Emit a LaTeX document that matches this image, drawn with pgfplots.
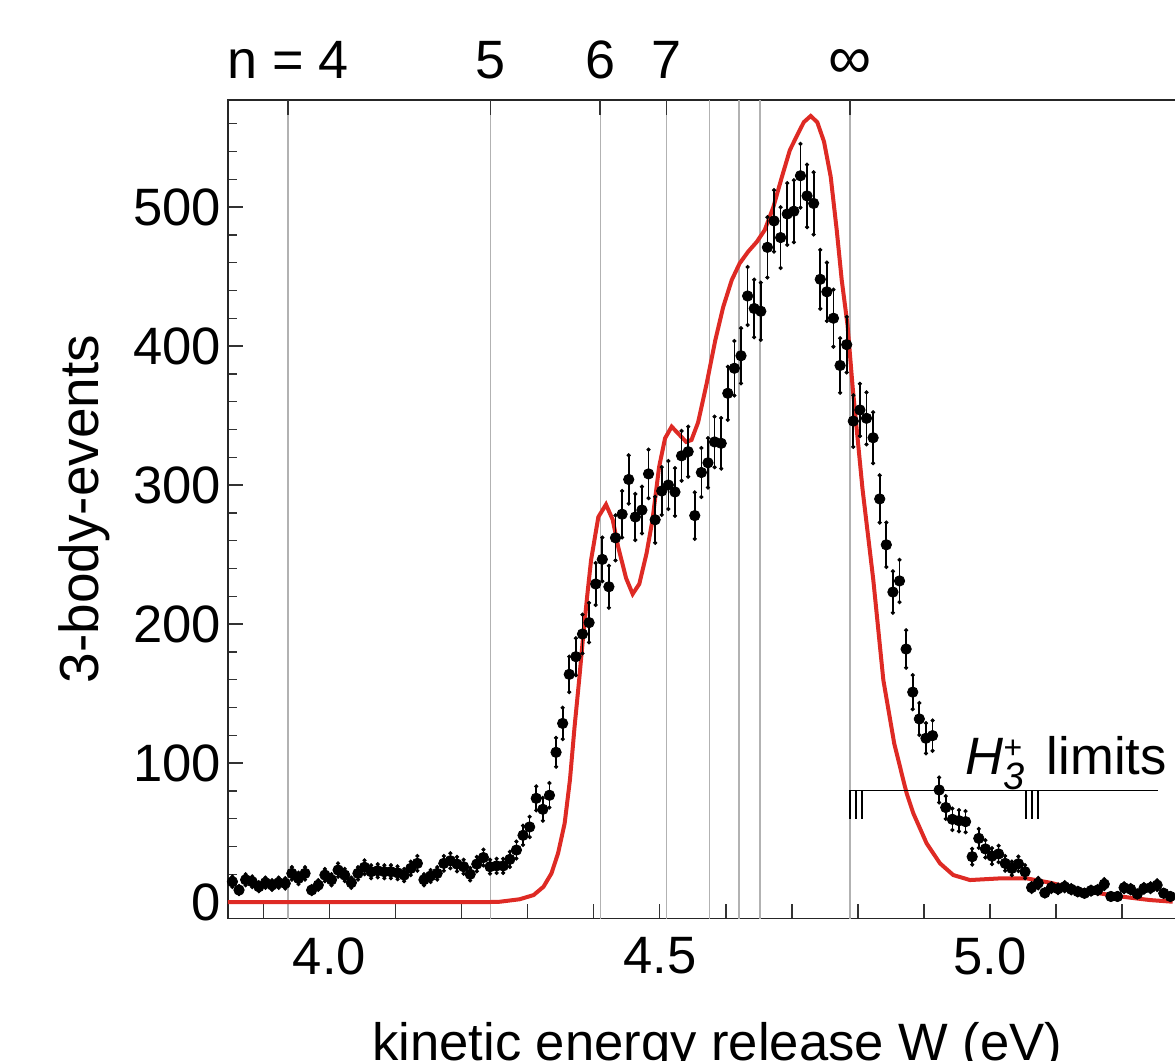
\documentclass[border=0pt]{standalone}
\usepackage{fontspec}
\setmainfont{Liberation Sans}
\usepackage{pgfplots}
\pgfplotsset{compat=1.18}
\usepackage{pgfplotstable}
\definecolor{fitred}{RGB}{222,42,36}

\pgfplotstableread{
x y e
3.853 14.6 3.8
3.863 8.6 2.9
3.873 16 4.0
3.883 14.6 3.8
3.893 11 3.3
3.903 13.9 3.7
3.913 12.2 3.5
3.923 13.9 3.7
3.933 13.4 3.7
3.943 20.6 4.5
3.953 17 4.1
3.963 20.6 4.5
3.973 8.6 2.9
3.983 12.2 3.5
3.993 19.4 4.4
4.003 16 4.0
4.013 23 4.8
4.023 19.4 4.4
4.033 13.9 3.7
4.043 20.6 4.5
4.053 25 5.0
4.063 21.8 4.7
4.073 22.5 4.7
4.083 21.8 4.7
4.093 21.8 4.7
4.103 21 4.6
4.113 19.4 4.4
4.123 24.2 4.9
4.133 27.8 5.3
4.143 16 4.0
4.153 18.7 4.3
4.163 20.6 4.5
4.173 27.8 5.3
4.183 29.7 5.4
4.193 27.3 5.2
4.203 25.4 5.0
4.213 20 4.5
4.223 27.3 5.2
4.233 32 5.7
4.243 25.4 5.0
4.253 26 5.1
4.263 26 5.1
4.273 30.7 5.5
4.283 37.4 6.1
4.293 48 6.9
4.303 54 7.3
4.313 74.6 8.6
4.323 66.7 8.2
4.333 76.8 8.8
4.343 107.7 10.4
4.353 128.5 11.3
4.363 163.8 12.8
4.373 176.5 13.3
4.383 192.8 13.9
4.393 201 14.2
4.403 228.8 15.1
4.413 246.5 15.7
4.423 226.8 15.1
4.433 262 16.2
4.443 279 16.7
4.453 304 17.4
4.463 277 16.6
4.473 282 16.8
4.483 308 17.5
4.493 275 16.6
4.503 295.7 17.2
4.513 300 17.3
4.523 295 17.2
4.533 321 17.9
4.543 324 18.0
4.553 278 16.7
4.563 309 17.6
4.573 316 17.8
4.583 331 18.2
4.593 330 18.2
4.603 366 19.1
4.613 384 19.6
4.623 393 19.8
4.633 436 20.9
4.643 427 20.7
4.653 425 20.6
4.663 471 21.7
4.673 490 22.1
4.683 478 21.9
4.693 495 22.2
4.703 497 22.3
4.713 522.5 22.9
4.723 508 22.5
4.733 502.6 22.4
4.743 448 21.2
4.753 439 21.0
4.763 420 20.5
4.773 386 19.6
4.783 401 20.0
4.793 346 18.6
4.803 354 18.8
4.813 348 18.7
4.823 334 18.3
4.833 290 17.0
4.843 257 16.0
4.853 223 14.9
4.863 231 15.2
4.873 182 13.5
4.883 151 12.3
4.893 131.7 11.5
4.903 117.8 10.9
4.913 119.7 10.9
4.923 80.6 9.0
4.933 68 8.2
4.943 59.5 7.7
4.953 58.5 7.6
4.963 57.8 7.6
4.973 32.6 5.7
4.983 45.8 6.8
4.993 38.2 6.2
5.003 33 5.7
5.013 34.6 5.9
5.023 27.8 5.3
5.033 24.2 4.9
5.043 27.5 5.2
5.053 21.8 4.7
5.063 10.4 3.2
5.073 13.6 3.7
5.083 6.6 2.6
5.093 10.4 3.2
5.103 9.5 3.1
5.113 11 3.3
5.123 9.2 3.0
5.133 7.5 2.7
5.143 6.3 2.5
5.153 8.2 2.9
5.163 8.6 2.9
5.173 12.9 3.6
5.183 4 2.0
5.193 4 2.0
5.203 10.3 3.2
5.213 9.2 3.0
5.223 5.8 2.4
5.233 9.8 3.1
5.243 10.3 3.2
5.253 12.2 3.5
5.263 6.3 2.5
5.273 4 2.0
}\datatable

\pgfplotstableread{
x y
3.846 0
4.200 0
4.243 0
4.258 0.2
4.288 2
4.309 5
4.324 11
4.336 20.6
4.346 35
4.356 56.6
4.364 87.8
4.371 126
4.378 160
4.384 191
4.390 219.6
4.396 246
4.407 277
4.4186 286
4.4288 275
4.437 255.6
4.449 233
4.459 221.6
4.469 228.8
4.480 250.8
4.489 275
4.499 313
4.508 333.6
4.518 342
4.530 336
4.540 331
4.548 332.4
4.558 345
4.571 373
4.584 404
4.596 428
4.609 447.5
4.621 459.5
4.634 468
4.647 475
4.659 483.5
4.672 500
4.685 521.8
4.697 541
4.707 550.6
4.718 561
4.7285 565.5
4.7385 561
4.7487 547
4.7588 521.8
4.7679 483.5
4.7755 447.5
4.7843 415
4.7921 370
4.807 297
4.8233 231.7
4.8385 159.7
4.855 114
4.8687 87.8
4.8739 78
4.8839 63.8
4.904 42.2
4.9243 27.8
4.9444 19.4
4.9697 15.8
5.0151 17
5.0556 17
5.0908 13.9
5.1413 8.1
5.1918 4.3
5.2423 1.4
5.2766 0.2
}\fittable

\begin{document}
\begin{tikzpicture}[font=\fontsize{26.3}{31.5}\selectfont]
\begin{axis}[
  at={(0pt,0pt)}, anchor=south west,
  scale only axis, width=489pt, height=409.35pt,
  xmin=3.8463, xmax=5.327, ymin=-12, ymax=577,
  clip=false,
  tick align=inside, tick pos=left,
  xtick={3.9,4.0,4.1,4.2,4.3,4.4,4.5,4.6,4.7,4.8,4.9,5.0,5.1,5.2},
  xticklabels={,4.0,,,,,4.5,,,,,5.0,,},
  ytick={0,100,200,300,400,500},
  minor ytick={20,40,60,80,120,140,160,180,220,240,260,280,320,340,360,380,420,440,460,480,520,540,560},
  major tick length=7.5pt, minor tick length=4.5pt,
  every tick/.style={black!80, line width=0.7pt},
  axis line style={black!85, line width=0.7pt},
  tick label style={font=\fontsize{26.3}{31.5}\selectfont},
  /pgf/number format/assume math mode=true,
  yticklabel style={xshift=0pt},
  xticklabel style={yshift=-6pt},
]
\pgfplotsinvokeforeach{3.937,4.2434,4.4098,4.5101,4.5753,4.6199,4.6518,4.788}{
  \draw[black!30, line width=0.65pt] (axis cs:#1,-12) -- (axis cs:#1,577);
}
\pgfplotsinvokeforeach{3.937,4.2434,4.4098,4.5101,4.788}{
  \draw[black!80, line width=0.7pt] (axis cs:#1,577) -- ++(0pt,-7.5pt);
}
\addplot[fitred, line width=2pt, no marks] table[x=x, y=y] {\fittable};
\addplot[only marks, mark=*, mark size=2.6pt, black,
  error bars/.cd, y dir=both, y explicit, error mark=*,
  error mark options={mark size=0.85pt, black},
  error bar style={line width=0.85pt, black}]
  table[x=x, y=y, y error=e] {\datatable};
% H3+ limits
\draw[black, line width=0.65pt] (axis cs:4.7865,80) -- (axis cs:5.2545,80);
\pgfplotsinvokeforeach{4.788,4.797,4.806,5.054,5.063,5.073}{
  \draw[black, line width=0.9pt] (axis cs:#1,80) -- (axis cs:#1,60);
}
\node[anchor=base east, inner sep=0pt] at (axis cs:5.268,91.4) {\textit{H}\rlap{\raisebox{-7.5pt}{\fontsize{19}{22}\selectfont\itshape 3}}\raisebox{8pt}{\fontsize{16}{19}\selectfont +}\hspace{5pt} limits};
% top labels
\node[anchor=base] at (axis cs:3.937,592.8) {\fontsize{27}{32}\selectfont n = 4};
\node[anchor=base] at (axis cs:4.2434,592.8) {\fontsize{27}{32}\selectfont 5};
\node[anchor=base] at (axis cs:4.4098,592.8) {\fontsize{27}{32}\selectfont 6};
\node[anchor=base] at (axis cs:4.5101,592.8) {\fontsize{27}{32}\selectfont 7};
\node[anchor=base] at (axis cs:4.788,592.8) {\scalebox{1.15}{∞}};
% axis labels
\node[rotate=90, anchor=base] at (axis cs:3.651,282.7) {\fontsize{27.5}{32}\selectfont 3-body-events};
\node[anchor=base] at (axis cs:4.587,-114) {kinetic energy release W (eV)};
\end{axis}
\pgfresetboundingbox
\path[use as bounding box] (-114pt,-71.15pt) rectangle (473.5pt,459.35pt);
\end{tikzpicture}
\end{document}
